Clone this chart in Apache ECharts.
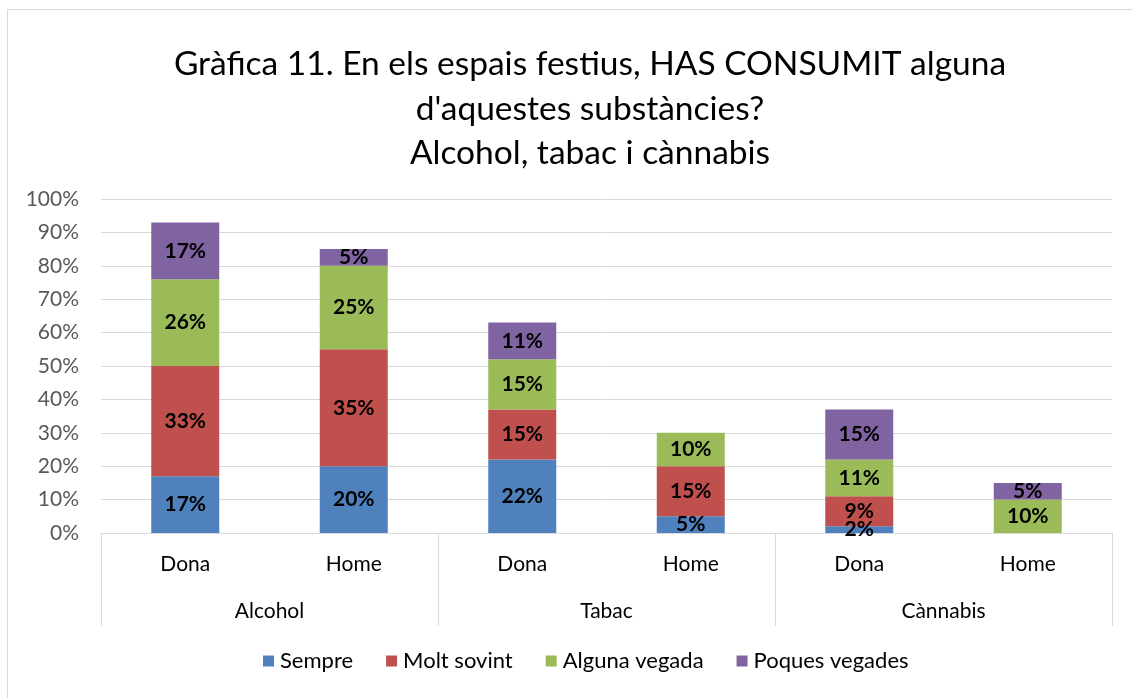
<!DOCTYPE html>
<html>
<head>
<meta charset="utf-8">
<script src="https://cdn.jsdelivr.net/npm/echarts@6/dist/echarts.min.js"></script>
<style>
  html, body { margin: 0; padding: 0; background: #fff; }
  #chart { width: 1132px; height: 698px; }
  #frame { position: absolute; left: 7px; top: 9px; right: -2px; bottom: -2px;
           border-left: 1px solid #d9d9d9; border-top: 1px solid #d9d9d9; pointer-events: none; }
</style>
</head>
<body>
<div id="chart"></div>
<div id="frame"></div>
<script>
// Substances (outer level) and gender (inner level) of the x axis
const groups = ['Alcohol', 'Tabac', 'Cànnabis'];
const categories = ['Dona', 'Home', 'Dona', 'Home', 'Dona', 'Home'];

// Frequency of consumption, % of respondents
const sempre        = [17, 20, 22, 5, 2, 0];
const moltSovint    = [33, 35, 15, 15, 9, 0];
const algunaVegada  = [26, 25, 15, 10, 11, 10];
const poquesVegades = [17, 5, 11, 0, 15, 5];

const yTicks = [0, 10, 20, 30, 40, 50, 60, 70, 80, 90, 100];

const FONT = 'Lato, "Open Sans", sans-serif';
const gridColor = '#d9d9d9';

function stackSeries(name, data, color) {
  return {
    name: name,
    type: 'bar',
    stack: 'total',
    xAxisIndex: 0,
    data: data,
    barWidth: 68,
    itemStyle: { color: color },
    label: {
      show: true,
      position: 'inside',
      color: '#000',
      fontFamily: FONT,
      fontWeight: 'bold',
      fontSize: 21,
      formatter: p => p.value > 0 ? p.value + '%' : ''
    }
  };
}

const chart = echarts.init(document.getElementById('chart'), null, { renderer: 'canvas' });
chart.setOption({
  animation: false,
  textStyle: { fontFamily: FONT },
  title: {
    text: 'Gràfica 11. En els espais festius, HAS CONSUMIT alguna\nd\'aquestes substàncies?\nAlcohol, tabac i cànnabis',
    left: 585,
    top: 37,
    textAlign: 'center',
    textStyle: { fontFamily: FONT, fontSize: 33.5, fontWeight: 'normal', color: '#000', lineHeight: 44.5 }
  },
  legend: {
    bottom: 21,
    left: 258,
    itemWidth: 11,
    itemHeight: 11,
    itemGap: 33,
    icon: 'rect',
    textStyle: { fontFamily: FONT, fontSize: 22, color: '#000', padding: [0, 0, 0, 1] },
    data: ['Sempre', 'Molt sovint', 'Alguna vegada', 'Poques vegades']
  },
  grid: { left: 101, right: 20, top: 199, bottom: 165, containLabel: false },
  xAxis: [
    {
      type: 'category',
      data: categories,
      position: 'bottom',
      axisLine: { show: false },
      axisTick: { show: false },
      axisLabel: { color: '#000', fontSize: 21, fontFamily: FONT, margin: 21 }
    },
    {
      type: 'category',
      data: groups,
      position: 'bottom',
      axisLine: { show: true, lineStyle: { color: gridColor, width: 1 } },
      axisTick: { show: true, length: 93, lineStyle: { color: gridColor, width: 1 } },
      axisLabel: { color: '#000', fontSize: 21, fontFamily: FONT, margin: 68 }
    }
  ],
  yAxis: {
    type: 'value',
    min: yTicks[0],
    max: yTicks[yTicks.length - 1],
    interval: 10,
    axisLine: { show: false },
    axisTick: { show: false },
    splitLine: { lineStyle: { color: gridColor, width: 1 } },
    axisLabel: { color: '#595959', fontSize: 21, fontFamily: FONT, margin: 22, formatter: '{value}%' }
  },
  series: [
    stackSeries('Sempre', sempre, '#4f81bd'),
    stackSeries('Molt sovint', moltSovint, '#c0504d'),
    stackSeries('Alguna vegada', algunaVegada, '#9bbb59'),
    stackSeries('Poques vegades', poquesVegades, '#8064a2')
  ]
});
</script>
</body>
</html>
